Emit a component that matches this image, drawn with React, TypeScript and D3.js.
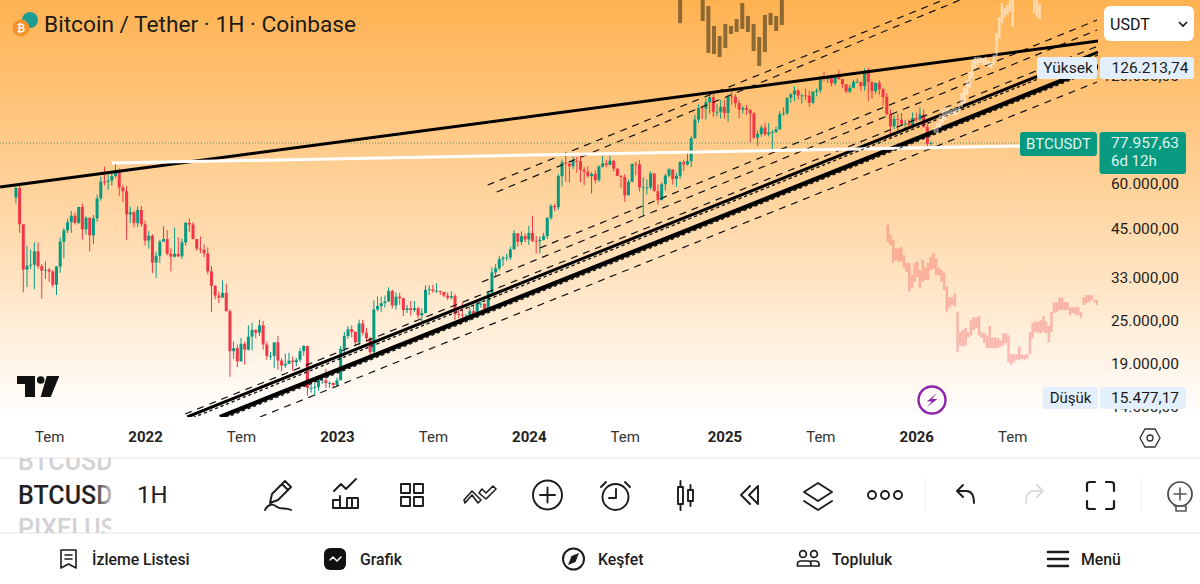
import React, { useEffect, useRef } from 'react';
import * as d3 from 'd3';

// weekly candles, thousands of USDT, first week is 3 May 2021
const firstWeek = new Date(2021, 4, 3);
const firstOpen = 55.1;

const closes = [
  58.5, 46.4, 34.7, 35.6, 35.8, 39.0, 35.5, 34.5, 34.7, 34.3, 31.5, 35.4, 41.5, 44.6, 47.0, 49.0, 46.8, 51.8, 44.9, 48.3, 43.2, 48.2, 54.7, 60.9, 60.8, 61.3, 63.2, 65.5, 58.7, 57.3, 49.4, 50.1, 46.7, 50.8, 46.4,
  41.8, 43.1, 36.3, 37.9, 41.5, 42.2, 38.4, 37.7, 38.4, 37.8, 41.3, 46.8, 46.3, 42.2, 39.7, 39.4, 38.5, 34.3, 31.3, 29.4, 29.0, 29.9, 26.6, 20.6, 21.0, 19.3, 21.6, 20.8, 22.6, 23.6, 23.2, 24.3, 21.5, 20.0, 20.0, 21.8, 19.4, 18.8, 19.0, 19.4, 19.2, 19.5, 20.6, 21.3, 16.3, 16.3, 16.4, 17.1, 17.1, 16.8, 16.8, 16.6,
  17.1, 20.9, 22.7, 23.7, 23.3, 21.8, 24.6, 23.2, 22.4, 20.5, 26.9, 27.5, 28.0, 28.3, 30.3, 27.6, 29.2, 28.9, 26.8, 27.1, 26.8, 27.1, 25.9, 26.3, 30.5, 30.6, 30.3, 30.3, 30.1, 29.4, 29.0, 29.3, 26.1, 26.0, 25.9, 25.9, 26.6, 26.2, 27.9, 27.9, 27.0, 29.9, 34.1, 35.0, 37.1, 37.4, 37.5, 39.5, 43.8, 41.4, 43.0, 42.1,
  43.9, 41.7, 41.6, 42.0, 43.0, 48.3, 52.1, 51.7, 63.1, 68.9, 68.4, 67.2, 69.6, 69.4, 65.7, 64.9, 63.1, 64.0, 61.5, 67.0, 68.5, 67.8, 69.6, 66.2, 63.2, 62.7, 55.8, 60.8, 68.2, 68.0, 58.7, 58.7, 58.7, 64.2, 57.3, 54.1, 59.9, 63.3, 65.9, 62.0, 63.2, 69.0, 68.0, 69.5, 80.4, 90.6, 97.7, 97.2, 101.2, 104.5, 95.2, 95.2, 98.3,
  94.5, 105.0, 104.8, 100.6, 96.5, 97.5, 96.5, 94.2, 80.7, 82.6, 86.1, 82.4, 83.5, 83.7, 85.1, 93.7, 94.3, 104.1, 106.5, 109.0, 105.6, 105.7, 105.5, 100.9, 108.3, 109.2, 119.1, 117.3, 119.4, 114.2, 119.3, 117.4, 113.5, 108.3, 111.1, 115.3, 115.3, 112.2, 123.5, 115.0, 108.6, 114.5, 110.0, 104.7, 94.0, 86.8, 90.9, 90.4, 88.2, 88.4, 87.5, 91.5,
  90.6, 93.6, 86.5, 77.5, 77.96,
];

const highs = [
  59.0, 59.5, 46.0, 40.4, 39.5, 41.3, 41.3, 36.0, 36.6, 35.1, 34.6, 35.5, 42.6, 45.3, 48.1, 50.5, 50.0, 51.9, 52.9, 48.8, 48.5, 49.2, 56.0, 62.9, 67.0, 63.7, 64.3, 69.0, 66.3, 59.5, 59.1, 51.9, 50.6, 51.9, 52.1,
  47.5, 44.4, 43.5, 38.9, 41.9, 45.8, 44.7, 39.8, 45.4, 42.6, 42.3, 47.0, 48.2, 47.0, 41.5, 42.9, 40.8, 40.0, 35.5, 31.4, 30.2, 32.4, 31.7, 26.9, 21.9, 21.5, 22.4, 21.9, 24.3, 24.7, 23.7, 25.2, 25.0, 21.9, 20.5, 21.8, 22.7, 19.7, 20.3, 20.4, 19.9, 19.7, 21.0, 21.4, 21.0, 17.1, 16.8, 17.2, 17.4, 18.4, 17.0, 16.9,
  17.4, 21.3, 23.3, 24.2, 24.3, 23.4, 25.2, 25.2, 23.9, 22.6, 28.5, 29.2, 29.2, 29.4, 31.0, 30.5, 30.0, 29.9, 29.0, 27.7, 28.4, 28.4, 27.4, 27.1, 31.4, 31.4, 31.5, 31.8, 30.3, 29.9, 30.0, 30.2, 29.7, 26.8, 28.1, 26.1, 27.5, 27.5, 28.6, 28.6, 28.0, 30.3, 35.2, 35.9, 37.9, 37.9, 38.4, 40.2, 44.7, 43.4, 44.3, 43.8,
  45.9, 49.0, 43.0, 42.9, 43.9, 48.6, 52.8, 52.9, 64.0, 70.1, 73.8, 68.1, 71.6, 71.3, 72.8, 66.9, 67.2, 64.7, 65.5, 67.7, 71.9, 70.0, 71.9, 70.0, 66.4, 63.4, 63.9, 61.8, 68.4, 69.4, 70.0, 62.7, 61.8, 65.0, 64.0, 59.8, 60.7, 64.1, 66.4, 65.6, 64.4, 69.4, 70.0, 73.6, 81.5, 93.4, 99.8, 98.7, 103.9, 105.2, 108.3, 99.9, 102.8,
  102.7, 106.4, 109.5, 106.5, 102.5, 98.8, 99.5, 96.5, 95.0, 84.5, 87.4, 88.7, 88.5, 84.7, 86.5, 95.7, 97.9, 104.2, 107.1, 112.0, 110.0, 106.8, 110.5, 108.9, 108.5, 110.5, 119.5, 123.2, 120.2, 119.2, 119.3, 124.5, 117.3, 113.5, 113.3, 116.8, 117.9, 113.4, 125.7, 126.21, 115.9, 114.8, 116.4, 110.8, 107.4, 96.6, 93.0, 93.9, 94.6, 90.5, 90.6, 94.8,
  94.7, 97.9, 96.5, 90.4, 78.8,
];

const lows = [
  53.0, 43.9, 30.0, 31.0, 34.8, 30.6, 34.9, 28.8, 32.7, 32.1, 31.0, 29.5, 34.0, 37.3, 43.8, 43.9, 46.3, 46.5, 42.0, 43.4, 39.0, 40.8, 47.1, 53.9, 59.5, 57.8, 59.4, 62.3, 55.7, 53.5, 42.0, 46.8, 45.5, 45.5, 45.7,
  40.5, 39.7, 34.0, 32.9, 36.2, 41.7, 38.0, 34.3, 37.5, 37.6, 37.2, 40.5, 44.2, 42.1, 39.2, 38.6, 37.6, 33.7, 26.5, 28.7, 28.0, 29.3, 26.6, 17.5, 19.6, 18.6, 19.3, 18.9, 20.7, 20.7, 22.4, 22.7, 20.8, 19.5, 19.5, 18.5, 18.3, 18.1, 18.5, 19.0, 18.2, 18.7, 19.2, 20.0, 15.48, 15.8, 15.5, 16.0, 16.7, 16.3, 16.3, 16.3,
  16.5, 17.3, 20.4, 22.3, 22.5, 21.4, 21.4, 22.8, 21.9, 19.6, 20.1, 26.6, 26.5, 27.2, 28.2, 27.1, 26.9, 27.7, 25.8, 26.3, 25.9, 26.5, 25.4, 24.9, 26.2, 29.5, 29.9, 29.9, 29.5, 29.1, 28.6, 28.7, 25.2, 25.4, 25.4, 24.9, 25.0, 26.1, 26.0, 27.2, 26.5, 26.9, 29.9, 33.4, 34.5, 35.5, 36.7, 36.9, 39.5, 40.2, 40.6, 41.4,
  40.7, 41.4, 38.5, 38.5, 41.8, 42.2, 47.7, 50.5, 50.9, 59.0, 60.8, 60.6, 66.0, 64.5, 60.6, 59.6, 62.4, 56.5, 60.2, 60.8, 66.6, 66.7, 67.6, 64.9, 63.4, 58.4, 53.5, 56.5, 62.4, 63.4, 57.2, 49.0, 56.1, 57.9, 57.3, 52.5, 54.5, 57.5, 62.7, 59.8, 58.9, 62.0, 65.2, 67.5, 66.8, 80.2, 88.6, 90.8, 90.5, 94.1, 92.2, 92.5, 91.2,
  91.2, 89.3, 99.5, 97.8, 91.2, 94.1, 93.4, 78.2, 80.0, 76.6, 81.2, 81.6, 81.3, 74.5, 83.1, 85.1, 92.9, 93.4, 100.7, 102.0, 103.1, 100.4, 102.7, 98.2, 99.8, 105.1, 107.5, 115.7, 114.7, 112.0, 112.7, 116.8, 110.8, 107.3, 107.3, 110.6, 114.8, 108.7, 109.0, 102.0, 103.5, 106.7, 106.2, 98.9, 93.0, 80.6, 85.2, 83.8, 87.6, 84.5, 86.6, 87.0,
  89.3, 90.0, 86.0, 74.9, 76.6,
];

// "bars pattern" drawings on the chart, thousands of USDT
const brownRange = [new Date(2024, 9, 14), new Date(2025, 3, 25)];
const brownHighs = [194.6, 230, 230, 230, 200, 187.3, 164.8, 154.6, 166.9, 164.8, 172.3, 190.8, 175.7, 166.9, 153.6, 176.8, 179, 175.7, 200];
const brownLows = [167.9, 205, 205, 205, 170.1, 138.7, 137.7, 135.1, 143.2, 156.6, 158.6, 161.6, 158.6, 140.4, 127.6, 139.6, 165.8, 159.6, 165.8];

const whiteRange = [new Date(2026, 1, 9), new Date(2026, 7, 27)];
const whiteHighs = [85.9, 88.6, 93.2, 96.3, 98.2, 97.6, 96.3, 97.6, 97.6, 99.4, 107.3, 110.8, 116.6, 122.8, 132.6, 135.2, 135.2, 135.2, 134.3, 135.2, 132.6, 131, 136.9, 157.5, 174.5, 190.8, 184.8, 188.4, 194.6, 194.6, 225, 225, 225, 225, 225, 225, 225, 200, 195, 190];
const whiteLows = [83.2, 83.1, 85.8, 88.6, 90.3, 93.2, 93.2, 93.2, 93.2, 95, 98.2, 100.7, 106, 110.8, 118, 125.9, 128.4, 130, 128.4, 128.4, 127, 125.9, 128.4, 135.2, 152.5, 168, 174.5, 176.8, 180.2, 163.6, 205, 205, 205, 205, 205, 205, 205, 179, 174.5, 172];

const redRange = [new Date(2025, 10, 12), new Date(2026, 11, 14)];
const redHighs = [46.2, 43.3, 41.9, 39.8, 39.8, 40.1, 38.1, 36.2, 36.2, 33.5, 36.2, 36.6, 34.6, 36.9, 35.2, 36.2, 37.6, 38.6, 37.3, 35.2, 34.6, 34.0, 31.1, 29.1, 29.1, 29.8, 26.5, 23.3, 23.6, 23.9, 23.3, 25.1, 25.6, 25.6, 25.8, 23.3, 23.1, 22.8, 24.2, 22.5, 22.5, 22.4, 22.1, 23.1, 23.1, 22.8, 20.2, 20.2, 20.2, 21.2, 20.2, 20.1, 20.2, 23.3, 24.7, 24.9, 24.9, 25.1, 25.8, 24.9, 24.2, 26.5, 28.1, 28.1, 29.0, 29.0, 28.2, 28.2, 27.3, 27.3, 27.3, 27.3, 26.5, 29.1, 29.5, 29.5, 29.5, 28.6, 28.6];
const redLows = [41.4, 40.6, 36.2, 36.9, 36.5, 36.5, 35.2, 34.2, 30.2, 30.9, 32.1, 33.1, 30.9, 32.1, 32.5, 32.5, 34.6, 34.9, 33.5, 33.5, 32.1, 30.5, 26.5, 27.2, 27.7, 27.4, 20.5, 21.4, 21.2, 21.4, 22.5, 22.8, 23.6, 23.9, 22.8, 22.4, 21.7, 21.0, 21.0, 21.0, 21.0, 21.0, 21.2, 21.4, 21.7, 19.2, 18.9, 19.2, 19.5, 19.5, 19.6, 19.5, 19.7, 20.2, 22.4, 23.3, 23.1, 23.1, 23.3, 23.1, 21.8, 23.3, 26.3, 26.5, 26.8, 26.8, 26.8, 26.8, 26.0, 26.3, 26.0, 26.0, 25.5, 27.7, 28.0, 28.2, 28.6, 28.2, 27.7];

// trend lines: [start date, start price, end date, end price]
type Trend = [Date, number, Date, number];
const solidLines: { t: Trend; color: string; w: number }[] = [
  { t: [new Date(2021, 3, 3), 58.86, new Date(2026, 11, 16), 149.7], color: '#000', w: 3 },
  { t: [new Date(2022, 2, 24), 13.53, new Date(2026, 11, 16), 139.5], color: '#000', w: 3 },
  { t: [new Date(2022, 4, 25), 13.53, new Date(2026, 11, 16), 127.6], color: '#000', w: 4.4 },
  { t: [new Date(2021, 10, 1), 68.6, new Date(2026, 6, 20), 76.5], color: '#fff', w: 3 },
];
const dashedLines: { t: Trend; dash: string }[] = [
  { t: [new Date(2023, 9, 15), 59.6, new Date(2026, 1, 25), 194.6], dash: '7,6' },
  { t: [new Date(2023, 10, 1), 57.0, new Date(2026, 2, 29), 194.6], dash: '7,6' },
  { t: [new Date(2024, 0, 22), 39.85, new Date(2026, 11, 14), 171.2], dash: '7,6' },
  { t: [new Date(2023, 9, 4), 32.06, new Date(2026, 11, 14), 160.6], dash: '7,6' },
  { t: [new Date(2022, 2, 20), 13.79, new Date(2026, 11, 16), 145.0], dash: '7,6' },
  { t: [new Date(2022, 7, 9), 13.53, new Date(2026, 11, 14), 115.2], dash: '7,6' },
  { t: [new Date(2022, 2, 24), 13.27, new Date(2026, 11, 16), 136.9], dash: '3,3' },
  { t: [new Date(2022, 4, 25), 13.27, new Date(2026, 11, 16), 125.2], dash: '3,3' },
];

const priceTicks = [14000, 19000, 25000, 33000, 45000, 60000, 120000];
const lastPrice = 77957.63;
const highPrice = 126213.74;
const lowPrice = 15477.17;

const timeLabels = ['Tem', '2022', 'Tem', '2023', 'Tem', '2024', 'Tem', '2025', 'Tem', '2026', 'Tem'];
const timeTicks = [
  new Date(2021, 6, 5), new Date(2022, 0, 3), new Date(2022, 6, 4), new Date(2023, 0, 2), new Date(2023, 6, 3), new Date(2024, 0, 1),
  new Date(2024, 6, 1), new Date(2025, 0, 6), new Date(2025, 6, 7), new Date(2026, 0, 5), new Date(2026, 6, 6),
];

const navLabels = ['İzleme Listesi', 'Grafik', 'Keşfet', 'Topluluk', 'Menü'];
const navX = [92, 360, 598, 832, 1081];

const FONT = 'Roboto, sans-serif';
const INK = '#131722';

export default function App() {
  const svgRef = useRef<SVGSVGElement>(null);

  useEffect(() => {
    if (!svgRef.current) return;
    const svg = d3.select(svgRef.current);
    svg.selectAll('*').remove();

    const W = 1200, H = 584, paneH = 417, paneR = 1098;

    const x = d3.scaleTime()
      .domain([new Date(2021, 4, 17), new Date(2026, 6, 6)])
      .range([23.3, 1012.2]);

    const y = d3.scaleLog()
      .domain([14000, 126213.74])
      .range([411.6, 67.7]);

    const priceFmt = d3.formatLocale({ decimal: ',', thousands: '.', grouping: [3], currency: ['', ''] }).format(',.2f');

    const defs = svg.append('defs');
    const bg = defs.append('linearGradient').attr('id', 'pane-bg').attr('x1', 0).attr('x2', 0).attr('y1', 0).attr('y2', 1);
    bg.append('stop').attr('offset', '0%').attr('stop-color', '#ffb251');
    bg.append('stop').attr('offset', '50%').attr('stop-color', '#ffd6a3');
    bg.append('stop').attr('offset', '100%').attr('stop-color', '#ffffff');
    defs.append('clipPath').attr('id', 'pane-clip').append('rect').attr('width', paneR).attr('height', paneH);
    defs.append('clipPath').attr('id', 'sym-clip').append('rect').attr('x', 0).attr('y', 458).attr('width', 111).attr('height', 75);
    const fade = defs.append('linearGradient').attr('id', 'sym-fade').attr('gradientUnits', 'userSpaceOnUse')
      .attr('x1', 18).attr('x2', 112).attr('y1', 0).attr('y2', 0);
    fade.append('stop').attr('offset', '80%').attr('stop-color', '#222');
    fade.append('stop').attr('offset', '100%').attr('stop-color', '#ccc');

    svg.append('rect').attr('width', W).attr('height', H).attr('fill', '#fff');
    svg.append('rect').attr('width', W).attr('height', paneH).attr('fill', 'url(#pane-bg)');

    const pane = svg.append('g').attr('clip-path', 'url(#pane-clip)');

    // last price dotted line
    pane.append('line')
      .attr('x1', 0).attr('x2', paneR)
      .attr('y1', y(lastPrice)).attr('y2', y(lastPrice))
      .attr('stroke', '#5f8f5f').attr('stroke-width', 1).attr('stroke-dasharray', '1,2');

    // bars pattern helper
    const drawGhost = (hi: number[], lo: number[], range: Date[], color: string, opacity: number, w: number) => {
      const gx = d3.scalePoint<number>().domain(d3.range(hi.length)).range([x(range[0]), x(range[1])]);
      pane.append('g').selectAll('rect').data(hi).join('rect')
        .attr('x', (_, i) => gx(i)! - w / 2)
        .attr('width', w)
        .attr('y', (d) => y(d * 1000))
        .attr('height', (d, i) => y(lo[i] * 1000) - y(d * 1000))
        .attr('fill', color)
        .attr('opacity', opacity);
    };

    drawGhost(brownHighs, brownLows, brownRange, '#7a5a2c', 0.85, 4);

    // candles
    const weeks = closes.map((_, i) => d3.timeDay.offset(firstWeek, i * 7));
    const opens = closes.map((_, i) => (i === 0 ? firstOpen : closes[i - 1]));
    const color = (i: number) => (closes[i] >= opens[i] ? '#089981' : '#f23645');
    const candles = pane.append('g');
    candles.selectAll('line').data(closes).join('line')
      .attr('x1', (_, i) => x(weeks[i])).attr('x2', (_, i) => x(weeks[i]))
      .attr('y1', (_, i) => y(highs[i] * 1000)).attr('y2', (_, i) => y(lows[i] * 1000))
      .attr('stroke', (_, i) => color(i)).attr('stroke-width', 1);
    candles.selectAll('rect').data(closes).join('rect')
      .attr('x', (_, i) => x(weeks[i]) - 1.5).attr('width', 3)
      .attr('y', (d, i) => y(Math.max(d, opens[i]) * 1000))
      .attr('height', (d, i) => Math.max(0.8, Math.abs(y(d * 1000) - y(opens[i] * 1000))))
      .attr('fill', (_, i) => color(i));

    // trend lines
    const trendPath = (t: Trend) => d3.line()([[x(t[0]), y(t[1] * 1000)], [x(t[2]), y(t[3] * 1000)]]);
    pane.append('g').selectAll('path').data(dashedLines).join('path')
      .attr('d', (d) => trendPath(d.t)).attr('fill', 'none')
      .attr('stroke', '#111').attr('stroke-width', 1.2).attr('stroke-dasharray', (d) => d.dash);
    pane.append('g').selectAll('path').data(solidLines).join('path')
      .attr('d', (d) => trendPath(d.t)).attr('fill', 'none')
      .attr('stroke', (d) => d.color).attr('stroke-width', (d) => d.w);
    pane.append('g').selectAll('path').data(dashedLines.slice(6)).join('path')
      .attr('d', (d) => trendPath(d.t)).attr('fill', 'none')
      .attr('stroke', '#222').attr('stroke-width', 1).attr('stroke-dasharray', (d) => d.dash);

    drawGhost(whiteHighs, whiteLows, whiteRange, '#ffffff', 0.5, 2.5);
    drawGhost(redHighs, redLows, redRange, '#f23645', 0.3, 2.5);

    // price axis
    const yAxis = svg.append('g')
      .attr('transform', 'translate(1179,0)')
      .call(d3.axisRight(y).tickValues(priceTicks).tickSize(0).tickFormat((d) => priceFmt(d as number)));
    yAxis.select('.domain').remove();
    yAxis.selectAll('text')
      .attr('x', 0).attr('text-anchor', 'end')
      .attr('y', (d) => ((d as number) === 14000 ? -5 : 0))
      .style('font-family', FONT).style('font-size', '15.5px').attr('fill', '#1e1e1e');

    // time axis
    const xAxis = svg.append('g')
      .attr('transform', `translate(0,${paneH})`)
      .call(d3.axisBottom(x).tickValues(timeTicks).tickSize(0).tickFormat((_, i) => timeLabels[i]));
    xAxis.select('.domain').remove();
    xAxis.selectAll('text')
      .attr('y', 14).attr('dy', '0.71em')
      .style('font-family', FONT).style('font-size', '15px')
      .style('font-weight', (_, i) => (i % 2 === 1 ? '700' : '400'))
      .attr('fill', (_, i) => (i % 2 === 1 ? '#222' : '#333'));

    const text = (s: string, tx: number, ty: number, size: number, fill = INK, anchor = 'start', weight = '400') =>
      svg.append('text').attr('x', tx).attr('y', ty).attr('dy', '0.35em').attr('text-anchor', anchor)
        .style('font-family', FONT).style('font-size', `${size}px`).style('font-weight', weight)
        .attr('fill', fill).text(s);
    const box = (bx: number, by: number, w: number, h: number, fill: string, r = 3) =>
      svg.append('rect').attr('x', bx).attr('y', by).attr('width', w).attr('height', h).attr('rx', r).attr('fill', fill);

    // title
    svg.append('circle').attr('cx', 30).attr('cy', 20).attr('r', 8).attr('fill', '#1e9e92');
    svg.append('circle').attr('cx', 21).attr('cy', 28).attr('r', 8.5).attr('fill', '#f2932c');
    text('₿', 21, 28, 10, '#fff', 'middle', '700');
    text('Bitcoin / Tether · 1H · Coinbase', 44, 24, 22.7, '#1a1a1a');

    // currency select
    box(1104, 6, 90, 35, '#fff', 6);
    text('USDT', 1110, 24, 16, '#111');
    svg.append('path').attr('d', 'M1179 22l4 4 4-4').attr('fill', 'none').attr('stroke', '#111').attr('stroke-width', 1.6);

    // high / low / last labels
    box(1037, 57, 60, 22, '#e3effd');
    text('Yüksek', 1068, 68, 15.5, '#1a1a1a', 'middle');
    box(1100, 57, 94, 22, '#e3effd');
    text(priceFmt(highPrice), 1150, 68, 15.5, '#1a1a1a', 'middle');

    box(1020, 132, 77, 24, '#089981');
    text('BTCUSDT', 1058.5, 144, 15, '#dff5ef', 'middle');
    box(1099.5, 132, 86.5, 42, '#089981');
    text(priceFmt(lastPrice), 1145, 143, 15.5, '#dff5ef', 'middle');
    text('6d 12h', 1111, 161, 15, '#dff5ef');

    box(1043, 387, 55, 22, '#e3effd');
    text('Düşük', 1070.5, 398, 15, '#1a1a1a', 'middle');
    box(1100, 387, 86, 22, '#e3effd');
    text(priceFmt(lowPrice), 1145, 398, 15.5, '#1a1a1a', 'middle');

    // tv logo
    const logo = svg.append('g').attr('fill', '#111');
    logo.append('path').attr('d', 'M17 376H35V397H25V384H17Z');
    logo.append('circle').attr('cx', 40.7).attr('cy', 380).attr('r', 3.8);
    logo.append('path').attr('d', 'M46.7 376H59.3L50.7 397H40.7Z');

    // lightning badge
    svg.append('circle').attr('cx', 932).attr('cy', 400).attr('r', 13.5).attr('fill', '#fff').attr('fill-opacity', 0.4)
      .attr('stroke', '#8e24aa').attr('stroke-width', 2.4);
    svg.append('path').attr('d', 'M937 393L927 401.5H932L927 407L937.5 399H932Z').attr('fill', '#8e24aa');

    // chart settings hexagon
    svg.append('path').attr('d', 'M1145 429H1155L1160 438L1155 447H1145L1140 438Z').attr('fill', 'none').attr('stroke', '#333').attr('stroke-width', 1.3);
    svg.append('circle').attr('cx', 1150).attr('cy', 438).attr('r', 3).attr('fill', 'none').attr('stroke', '#333').attr('stroke-width', 1.3);

    // dividers
    svg.append('line').attr('x1', 0).attr('x2', W).attr('y1', 458).attr('y2', 458).attr('stroke', '#eeeeee').attr('stroke-width', 1.5);
    svg.append('line').attr('x1', 0).attr('x2', W).attr('y1', 533).attr('y2', 533).attr('stroke', '#eeeeee').attr('stroke-width', 1.5);
    svg.append('line').attr('x1', 925).attr('x2', 925).attr('y1', 478).attr('y2', 512).attr('stroke', '#eee');
    svg.append('line').attr('x1', 1141).attr('x2', 1141).attr('y1', 478).attr('y2', 512).attr('stroke', '#eee');

    // symbol picker
    const sym = svg.append('g').attr('clip-path', 'url(#sym-clip)');
    const symText = (s: string, ty: number, fill: string) =>
      sym.append('text').attr('x', 18).attr('y', ty).attr('dy', '0.35em')
        .style('font-family', FONT).style('font-size', '25px').style('font-weight', '500').attr('fill', fill).text(s);
    symText('BTCUSD', 461, '#d2d2d2');
    symText('BTCUSDT', 495, 'url(#sym-fade)');
    symText('PIXELUSDT', 528, '#d2d2d2');
    text('1H', 137, 495, 24, '#222', 'start', '400');

    // toolbar icons
    const icon = (d: string, stroke = '#1c1c1c', sw = 1.9) =>
      svg.append('path').attr('d', d).attr('fill', 'none').attr('stroke', stroke).attr('stroke-width', sw)
        .attr('stroke-linecap', 'round').attr('stroke-linejoin', 'round');
    icon('M270 503L272 494L285 481L291 487L278 500ZM282 484L288 490M265 510C268 504 273 503 277 507C281 510 286 507 291 510');
    icon('M334 491L341 484L346 489L356 479M333 508V500H340V508M340 508V496M347 508V498H358V508M333 508H358M352 498V508');
    icon('M401 484h9v9h-9zM414 484h9v9h-9zM401 497h9v9h-9zM414 497h9v9h-9z');
    icon('M465 503L472 495L478 503L481 500L472 491L464 500ZM479 493L486 499L496 489L493 486L486 493L482 489Z', '#1c1c1c', 1.6);
    svg.append('circle').attr('cx', 547.5).attr('cy', 495).attr('r', 14.5).attr('fill', 'none').attr('stroke', '#1c1c1c').attr('stroke-width', 1.9);
    icon('M540 495H555M547.5 487.5V502.5');
    svg.append('circle').attr('cx', 615.5).attr('cy', 497).attr('r', 13).attr('fill', 'none').attr('stroke', '#1c1c1c').attr('stroke-width', 1.9);
    icon('M616 489V498H609M601 487L606 482M630 487L625 482');
    icon('M678 487h5v17h-5zM680.5 481v6M680.5 504v6M688 490h5v11h-5zM690.5 485v5M690.5 501v5');
    icon('M750 486L741 495L750 504M758 486L749 495L758 504V486', '#1c1c1c', 1.9);
    icon('M818 483L832 492L818 501L804 492ZM804 501L818 510L832 501');
    ['872', '885', '898'].forEach((cx) => {
      svg.append('circle').attr('cx', +cx).attr('cy', 495).attr('r', 4).attr('fill', 'none').attr('stroke', '#1c1c1c').attr('stroke-width', 1.9);
    });
    icon('M957 491L963 485M957 491L963 497M957 491H966C972 491 974 496 974 503');
    icon('M1043 491L1037 485M1043 491L1037 497M1043 491H1034C1028 491 1026 496 1026 503', '#dcdcdc');
    icon('M1087 491V484Q1087 482 1090 482H1095M1106 482H1111Q1114 482 1114 485V491M1114 501V507Q1114 509 1111 509H1106M1095 509H1090Q1087 509 1087 507V501', '#1c1c1c', 2.2);
    svg.append('circle').attr('cx', 1180).attr('cy', 494).attr('r', 12).attr('fill', 'none').attr('stroke', '#444').attr('stroke-width', 1.7);
    icon('M1174 494H1186M1180 488V500M1174 506H1186V511H1176V506', '#555', 1.6);

    // bottom nav
    navLabels.forEach((s, i) => {
      text(s, navX[i], 559, 15.8, '#1c1c1c', 'start', '500');
    });
    icon('M61 550H76V568L68.5 564L61 568ZM65 555H72M65 559H72', '#1c1c1c', 1.6);
    svg.append('rect').attr('x', 324).attr('y', 548).attr('width', 22).attr('height', 22).attr('rx', 6).attr('fill', '#111');
    icon('M330 560L333 557L337 561L341 557', '#fff', 1.5);
    svg.append('circle').attr('cx', 573.5).attr('cy', 559).attr('r', 10.5).attr('fill', 'none').attr('stroke', '#1c1c1c').attr('stroke-width', 2);
    svg.append('path').attr('d', 'M579 553L575.5 562L568 565L571.5 556Z').attr('fill', '#1c1c1c');
    [803, 814].forEach((cx) => {
      svg.append('circle').attr('cx', cx).attr('cy', 554).attr('r', 3.4).attr('fill', 'none').attr('stroke', '#1c1c1c').attr('stroke-width', 1.7);
    });
    icon('M797.5 566V564Q797.5 561 801 561H808Q811 561 811 564V566ZM811 561H815Q819 561 819 564V566H811', '#1c1c1c', 1.7);
    icon('M1048 552H1068M1048 559H1068M1048 566H1068', '#1c1c1c', 2.6);
  }, []);

  return (
    <svg ref={svgRef} width={1200} height={584} style={{ position: 'fixed', left: 0, top: 0, background: '#fff' }} />
  );
}
